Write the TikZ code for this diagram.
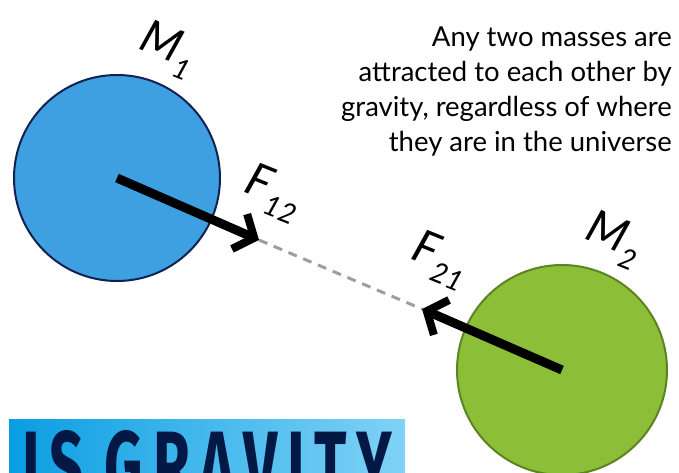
\documentclass[tikz,border=0pt]{standalone}
\usepackage{fontspec}
\setmainfont{Lato}
\newfontfamily\titlefont[LetterSpace=16]{Fira Sans}
\usetikzlibrary{arrows.meta,positioning,calc}
\definecolor{massblue}{RGB}{62,160,224}
\definecolor{massblueedge}{RGB}{16,34,82}
\definecolor{massgreen}{RGB}{140,190,55}
\definecolor{massgreenedge}{RGB}{92,132,34}
\definecolor{titlenavy}{RGB}{4,24,70}
\definecolor{bandleft}{RGB}{10,158,226}
\definecolor{bandright}{RGB}{128,210,246}
\newcommand{\symbtext}[2]{#1\kern1pt\raisebox{-0.28em}{\fontsize{28}{28}\selectfont #2}}

\begin{document}
\begin{tikzpicture}[x=1pt,y=-1pt,
  mass/.style={circle,line width=2pt,inner sep=0pt,minimum size=206pt},
  force/.style={line width=9pt,-{Straight Barb[length=16pt,width=38pt,line width=8pt]}},
  pull/.style={line width=3pt,color=black!38,dash pattern=on 9pt off 7pt},
  symb/.style={inner sep=0pt,rotate=-22,font=\itshape\fontsize{46}{46}\selectfont}]
\useasboundingbox (0,0) rectangle (679,473);
\clip (0,0) rectangle (679,473);
% the two masses
\node[mass,fill=massblue,draw=massblueedge] (m1) at (117,178) {};
\node[mass,fill=massgreen,draw=massgreenedge,minimum size=210pt] (m2) at (562,370) {};
\coordinate (f12tip) at (259,240);
\coordinate (f21tip) at (422,309);
\path[pull] (f12tip) edge (f21tip);
\path[force]
(m1.center) edge (f12tip)
(m2.center) edge (f21tip)
;
% labels
\node[symb] (m1name) at (168,50) {\symbtext{M}{1}};
\node[symb] (m2name) at (614,240) {\symbtext{M}{2}};
\node[symb] (f12name) at (273,193) {\symbtext{F}{12}};
\node[symb] (f21name) at (440,260) {\symbtext{F}{21}};
\node[anchor=north east,inner sep=0pt,align=right,
  font=\fontsize{27.5}{35}\selectfont] (note) at (672,27)
  {Any two masses are\\attracted to each other by\\gravity, regardless of where\\they are in the universe};
% title band
\shade[left color=bandleft,right color=bandright] (9,419) rectangle (405,480);
\node[anchor=north west,inner sep=0pt,text=titlenavy] (title) at (22,430)
  {\resizebox{370pt}{70pt}{\titlefont\bfseries IS\hspace{0.35em}GRAVITY}};
\end{tikzpicture}
\end{document}
